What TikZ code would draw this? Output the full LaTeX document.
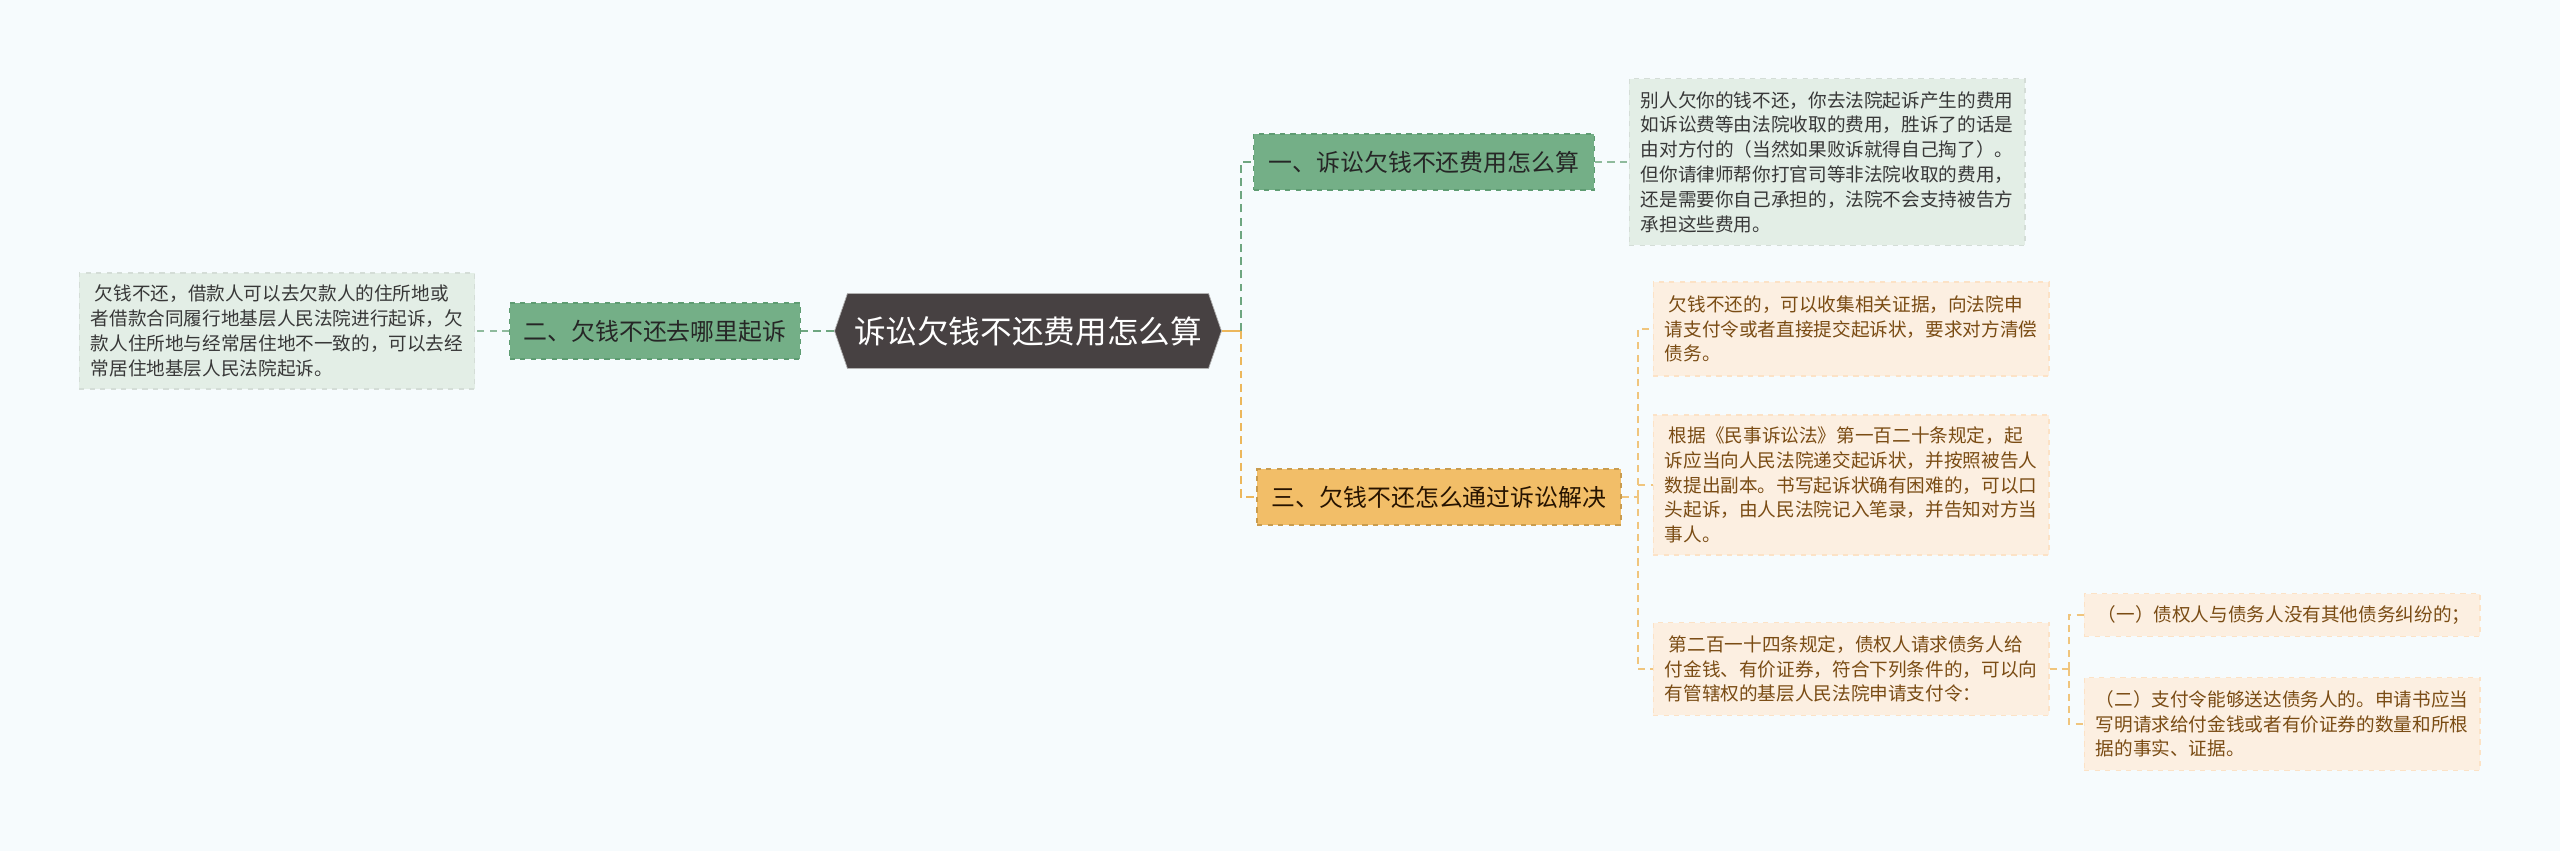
\documentclass[tikz,border=0pt]{standalone}
\usepackage{fontspec}
\setmainfont{Noto Sans CJK SC}
\usetikzlibrary{shapes.symbols,positioning}

\definecolor{bgcol}{HTML}{F6FBFD}
\definecolor{rootfill}{HTML}{474142}
\definecolor{grnfill}{HTML}{74AF87}
\definecolor{grnline}{HTML}{5E9C72}
\definecolor{grnleaf}{HTML}{E3EEE6}
\definecolor{orgfill}{HTML}{F2BE68}
\definecolor{orgline}{HTML}{ECB75C}
\definecolor{peach}{HTML}{FCEFE1}
\definecolor{peachtext}{HTML}{7A4C14}

\begin{document}
\begin{tikzpicture}[
        x=0.02cm, y=-0.02cm,
        root/.style={signal, signal to=east and west, signal pointer angle=142, fill=rootfill, draw=gray!60, text=white, minimum width=7.74cm, minimum height=1.5cm, inner sep=0pt, font=\fontsize{18}{22}\selectfont},
        topic/.style={draw=grnline, dashed, line width=0.8pt, fill=grnfill, text=black!85, minimum height=1.12cm, inner sep=0pt, font=\fontsize{13.6}{16}\selectfont},
        topicorg/.style={topic, draw=orgline!85!black, fill=orgfill, text=black!85!orange},
        leaf/.style={draw=grnleaf!85!gray, dashed, line width=0.6pt, fill=grnleaf, text=black!78, align=left, minimum width=7.92cm, inner sep=0pt, font=\fontsize{10.6}{14.1}\selectfont},
        leaforg/.style={leaf, draw=peach!88!orange, fill=peach, text=peachtext},
        mainline/.style={draw=grnline!90, line width=1.1pt, dash pattern=on 4.5pt off 3pt},
        mainorg/.style={draw=orgline, line width=1.1pt, dash pattern=on 4.5pt off 3pt},
        subline/.style={draw=grnline!70, line width=0.6pt, dash pattern=on 4pt off 3pt},
        suborg/.style={draw=orgline!80, line width=0.6pt, dash pattern=on 4pt off 3pt}
    ]
        % Background
        \fill[bgcol] (0,0) rectangle (2560,851);
        \useasboundingbox (0,0) rectangle (2560,851);

        % Centre
        \node (root) [root] at (1028,331) {诉讼欠钱不还费用怎么算};

        % Topics
        \node (t1) [topic, minimum width=6.82cm] at (1424,162) {一、诉讼欠钱不还费用怎么算};
        \node (t2) [topic, minimum width=5.82cm] at (655,331) {二、欠钱不还去哪里起诉};
        \node (t3) [topicorg, minimum width=7.28cm] at (1439,497) {三、欠钱不还怎么通过诉讼解决};

        % Leaves
        \node (fee) [leaf, minimum height=3.34cm] at (1827,162) {别人欠你的钱不还，你去法院起诉产生的费用\\如诉讼费等由法院收取的费用，胜诉了的话是\\由对方付的（当然如果败诉就得自己掏了）。\\但你请律师帮你打官司等非法院收取的费用，\\还是需要你自己承担的，法院不会支持被告方\\承担这些费用。};
        \node (court) [leaf, minimum height=2.32cm] at (277,331) {\ 欠钱不还，借款人可以去欠款人的住所地或\\者借款合同履行地基层人民法院进行起诉，欠\\款人住所地与经常居住地不一致的，可以去经\\常居住地基层人民法院起诉。};
        \node (evid) [leaforg, minimum height=1.88cm] at (1851,329) {\ 欠钱不还的，可以收集相关证据，向法院申\\请支付令或者直接提交起诉状，要求对方清偿\\债务。};
        \node (law) [leaforg, minimum height=2.8cm] at (1851,485) {\ 根据《民事诉讼法》第一百二十条规定，起\\诉应当向人民法院递交起诉状，并按照被告人\\数提出副本。书写起诉状确有困难的，可以口\\头起诉，由人民法院记入笔录，并告知对方当\\事人。};
        \node (order) [leaforg, minimum height=1.86cm] at (1851,669) {\ 第二百一十四条规定，债权人请求债务人给\\付金钱、有价证券，符合下列条件的，可以向\\有管辖权的基层人民法院申请支付令：};
        \node (cond1) [leaforg, minimum height=0.86cm] at (2282,615) {\ （一）债权人与债务人没有其他债务纠纷的；};
        \node (cond2) [leaforg, minimum height=1.86cm] at (2282,724) {（二）支付令能够送达债务人的。申请书应当\\写明请求给付金钱或者有价证券的数量和所根\\据的事实、证据。};

        % Joints
        \coordinate (rj) at (1241,331);
        \coordinate (j3) at (1638,497);
        \coordinate (j4) at (2069,669);

        % Connectors
        \draw [mainline] (root.west) -- (t2.east);
        \draw [draw=orgline, line width=1.6pt] (root.east) -- (rj);
        \draw [mainline] (rj) |- (t1.west);
        \draw [mainorg] (rj) |- (t3.west);
        \draw [subline] (t2.west) -- (court.east);
        \draw [subline] (t1.east) -- (fee.west);
        \draw [suborg] (t3.east) -- (j3);
        \draw [suborg] (j3) |- (evid.west);
        \draw [suborg] (j3) |- (law.west);
        \draw [suborg] (j3) |- (order.west);
        \draw [suborg] (order.east) -- (j4);
        \draw [suborg] (j4) |- (cond1.west);
        \draw [suborg] (j4) |- (cond2.west);

    \end{tikzpicture}
\end{document}
